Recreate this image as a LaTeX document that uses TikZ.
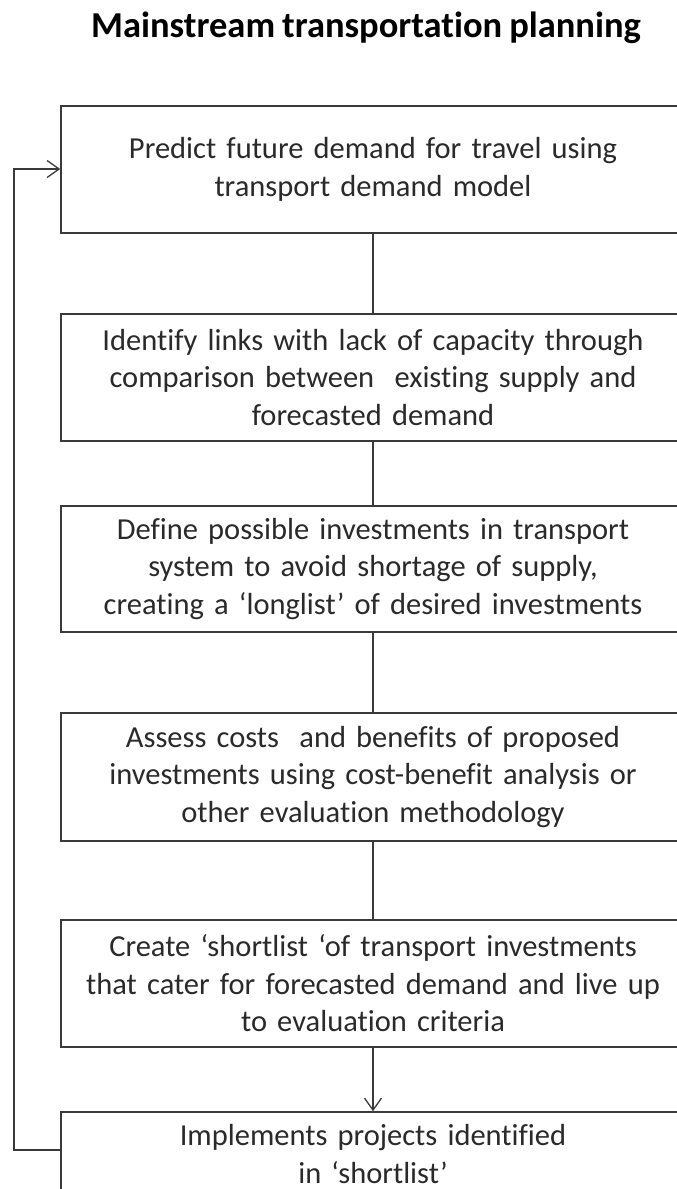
\documentclass[tikz,border=0pt]{standalone}
\usepackage{fontspec}
\setmainfont{Carlito}[Ligatures=NoCommon, WordSpace=0.85]
\usetikzlibrary{arrows.meta}
\definecolor{txt}{HTML}{2A2A2A}
\definecolor{ln}{HTML}{3A3A3A}
\tikzset{
  stepbox/.style={draw=ln, line width=1.6pt, fill=white, minimum width=624pt,
    text width=610pt, align=center, inner sep=0pt, text=txt,
    font=\fontsize{30.5}{37.5}\selectfont},
  conn/.style={draw=ln, line width=1.5pt},
  tip/.style={-{Straight Barb[length=12pt,width=17pt,line width=1.3pt]}},
}
\begin{document}
\begin{tikzpicture}[x=1pt,y=1pt]
\useasboundingbox (0,0) rectangle (677,-1189);
\clip (0,0) rectangle (677,-1189);
\fill[white] (0,0) rectangle (677,-1189);
\node[font=\bfseries\fontsize{36.5}{40}\selectfont, anchor=base] (title) at (366,-37) {Mainstream transportation planning};
\node[stepbox, minimum height=127pt] (b1) at (373,-169.5) {Predict future demand for travel using\\transport demand model};
\node[stepbox, minimum height=127pt] (b2) at (373,-377.5) {Identify links with lack of capacity through\\comparison between\ \ existing supply and\\forecasted demand};
\node[stepbox, minimum height=126pt] (b3) at (373,-569) {Define possible investments in transport\\system to avoid shortage of supply,\\creating a ‘longlist’ of desired investments};
\node[stepbox, minimum height=128pt] (b4) at (373,-777) {Assess costs\ \ and benefits of proposed\\investments using cost-benefit analysis or\\other evaluation methodology};
\node[stepbox, minimum height=127pt] (b5) at (373,-983.5) {Create ‘shortlist ‘of transport investments\\that cater for forecasted demand and live up\\to evaluation criteria};
\node[stepbox, minimum height=84pt] (b6) at (373,-1154) {Implements projects identified\\in ‘shortlist’};
\draw[conn] (b1.south) -- (b2.north);
\draw[conn] (b2.south) -- (b3.north);
\draw[conn] (b3.south) -- (b4.north);
\draw[conn] (b4.south) -- (b5.north);
\draw[conn, tip] (b5.south) -- (b6.north);
\coordinate (fbot) at (14,-1150);
\coordinate (ftop) at (14,-169);
\draw[conn, tip] (b6.west |- fbot) -- (fbot) -- (ftop) -- (b1.west |- ftop);
\end{tikzpicture}
\end{document}
